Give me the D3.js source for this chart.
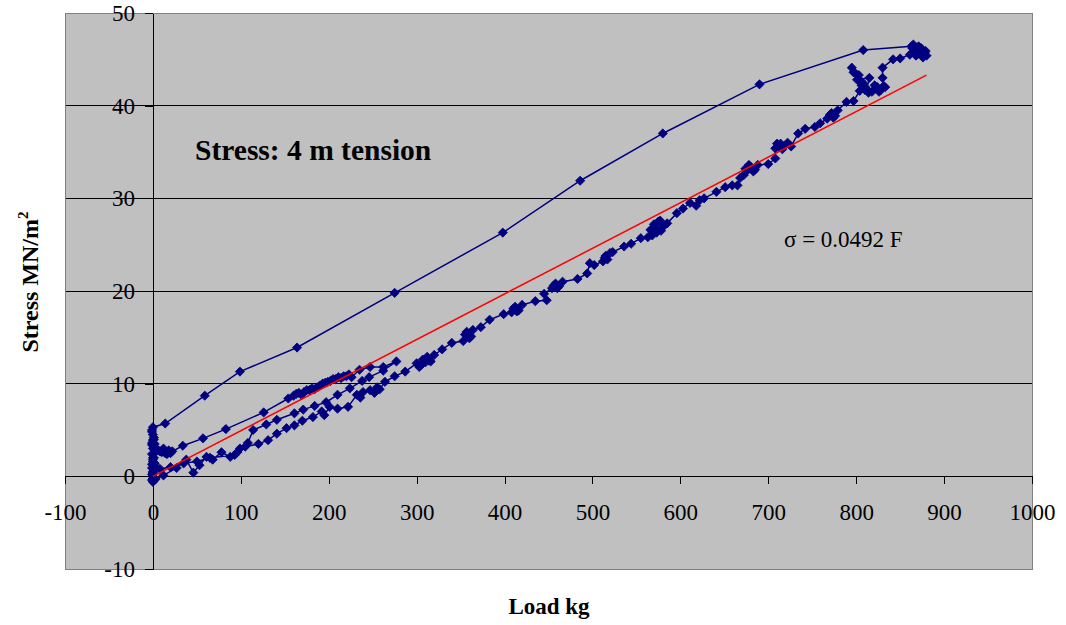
<!DOCTYPE html>
<html><head><meta charset="utf-8">
<script src="https://cdn.jsdelivr.net/npm/d3@7"></script>
<style>body{margin:0;background:#fff;}</style>
</head><body>
<svg id="c" width="1066" height="625"></svg>
<script>
const xTicks = [-100,0,100,200,300,400,500,600,700,800,900,1000];
const yTicks = [-10,0,10,20,30,40,50];
const gridY = [10,20,30,40];
// measured load (kg)
const loadKg = [
 0,-1,1,-1,0,1,-1,0,2,0,-1,1,3,2,5,8,10,12,14,16,18,20,22,34,57,83,126,154,160,163,166,169,172,175,178,181,184,187,190,193,196,199,202,205,208,211,214,217,220,223,226,235,247,262,277,
 262,246,238,224,210,197,184,171,161,141,129,114,108,99,96,88,78,68,61,53,46,38,27,12,3,0,
 0,-1,1,0,2,0,-1,1,8,20,35,50,65,93,105,120,131,141,152,161,170,182,192,195,201,210,222,232,236,239,247,252,255,258,264,275,287,300,303,305,307,310,312,314,316,320,329,340,353,355,357,360,362,364,373,383,399,408,410,412,414,416,420,435,448,445,454,456,458,460,462,466,483,494,497,502,512,514,515,517,520,523,536,544,555,563,566,568,570,572,573,575,577,578,580,585,596,603,611,618,622,627,641,651,659,665,668,672,674,676,678,680,683,685,688,700,708,708,710,712,714,716,719,722,726,734,742,753,759,767,770,772,774,776,779,789,797,804,806,808,810,812,815,801,797,795,799,803,806,810,814,818,821,824,826,828,831,833,830,830,842,850,861,864,866,868,870,872,874,876,878,880,879,876,873,871,868,865,
 863,808,690,580,486,398,275,164,99,59,14,0,-1,0,1,-1,0,1,0,-1
];
// measured stress (MN/m2)
const stressMN = [
 3.0,3.6,4.2,4.8,3.9,3.2,2.4,1.6,1.0,0.5,1.3,2.0,2.6,3.5,2.9,2.7,2.6,3.0,2.5,2.4,2.8,2.5,2.7,3.3,4.1,5.1,6.9,8.4,8.7,8.9,9.0,8.8,9.1,9.3,9.3,9.5,9.4,9.6,9.8,10.0,10.1,10.2,10.3,10.5,10.5,10.7,10.6,10.8,10.8,11.0,10.7,11.5,11.8,11.8,12.4,
 11.4,10.7,10.3,9.5,8.8,8.0,7.6,7.2,6.8,6.1,5.6,5.0,3.6,3.0,2.6,2.1,2.6,1.8,2.1,1.2,0.4,1.8,0.9,0.1,-0.3,-0.6,
 0.4,0.9,1.2,1.8,1.4,-0.2,0.2,0.7,0.8,1.0,1.4,1.6,2.0,2.3,3.2,3.5,3.9,4.6,5.2,5.5,6.0,6.4,7.0,6.6,7.5,7.3,7.5,8.8,8.5,9.1,9.3,9.0,9.6,9.4,10.2,10.8,11.3,12.2,11.8,12.0,12.6,12.3,12.9,12.5,12.4,13.1,13.7,14.4,14.6,15.3,15.6,14.9,15.1,15.8,16.1,16.9,17.5,17.7,18.1,18.3,17.8,17.9,18.5,18.9,19.0,19.7,20.3,20.6,20.8,20.3,20.5,21.0,21.3,21.9,23.0,22.8,23.2,23.6,23.8,23.4,24.1,24.2,24.8,25.1,25.7,25.8,26.6,26.0,27.2,26.7,26.3,27.5,27.6,26.5,26.9,27.3,28.4,28.9,29.5,29.2,29.8,30.0,30.7,31.2,31.4,31.4,32.2,32.5,33.2,33.0,33.6,33.4,32.9,33.1,33.6,33.7,34.3,35.4,35.9,35.5,35.9,35.3,35.7,36.0,35.6,37.0,37.5,37.7,38.1,38.6,39.0,39.2,38.7,38.9,39.5,40.4,40.5,41.6,42.2,42.4,41.7,41.8,43.0,42.8,43.6,44.1,43.5,43.3,42.6,42.0,41.4,41.5,42.2,42.0,41.5,41.7,42.1,42.0,43.0,44.1,45.0,45.1,45.5,46.2,46.0,45.4,45.6,46.1,46.2,45.5,45.7,45.4,45.9,45.2,45.8,46.4,45.9,46.6,
 46.4,46.0,42.3,37.0,31.9,26.3,19.8,13.9,11.3,8.7,5.7,5.3,5.0,4.5,4.0,3.4,2.0,1.1,0.3,-0.4
];
const fitLoad = [0, 880];
const fitSlope = 0.0492;

const svg = d3.select("#c");
const x = d3.scaleLinear().domain([-100,1000]).range([65,1032]);
const y = d3.scaleLinear().domain([-10,50]).range([569,13]);
const serif = "'Liberation Serif','Times New Roman',serif";

svg.append("rect").attr("x",x(-100)).attr("y",y(50)).attr("width",x(1000)-x(-100)).attr("height",y(-10)-y(50))
  .attr("fill","#c0c0c0");
svg.append("g").selectAll("line").data(gridY).join("line")
  .attr("x1",x(-100)).attr("x2",x(1000)).attr("y1",d=>y(d)).attr("y2",d=>y(d))
  .attr("stroke","#000").attr("stroke-width",1).attr("shape-rendering","crispEdges");
svg.append("rect").attr("x",x(-100)).attr("y",y(50)).attr("width",x(1000)-x(-100)).attr("height",y(-10)-y(50))
  .attr("fill","none").attr("stroke","#808080").attr("stroke-width",1).attr("shape-rendering","crispEdges");

const fmt = d => String(d);
const xAxis = svg.append("g").attr("transform",`translate(0,${y(0)})`)
  .call(d3.axisBottom(x).tickValues(xTicks).tickSizeInner(8).tickSizeOuter(0).tickPadding(19).tickFormat(fmt));
const yAxis = svg.append("g").attr("transform",`translate(${x(0)},0)`)
  .call(d3.axisLeft(y).tickValues(yTicks).tickSizeInner(8).tickSizeOuter(0).tickPadding(10).tickFormat(fmt));
[xAxis,yAxis].forEach(g=>{
  g.selectAll("path,line").attr("stroke","#000").attr("shape-rendering","crispEdges");
  g.selectAll("text").attr("font-family",serif).attr("font-size",23).attr("fill","#000");
});

const pts = loadKg.map((v,i)=>[v,stressMN[i]]);
svg.append("path").datum(pts)
  .attr("d",d3.line().x(d=>x(d[0])).y(d=>y(d[1])))
  .attr("fill","none").attr("stroke","#000080").attr("stroke-width",1.5);
svg.append("g").selectAll("path").data(pts).join("path")
  .attr("transform",d=>`translate(${x(d[0])},${y(d[1])})`)
  .attr("d","M0,-4.6L4.6,0L0,4.6L-4.6,0Z")
  .attr("fill","#000080").attr("stroke","#000080").attr("stroke-width",0.8);

svg.append("line")
  .attr("x1",x(fitLoad[0])).attr("y1",y(fitLoad[0]*fitSlope))
  .attr("x2",x(fitLoad[1])).attr("y2",y(fitLoad[1]*fitSlope))
  .attr("stroke","#ff0000").attr("stroke-width",1.5);

svg.append("text").attr("x",195).attr("y",160).attr("font-family",serif).attr("font-weight","bold")
  .attr("font-size",29.5).text("Stress: 4 m tension");
svg.append("text").attr("x",784).attr("y",247).attr("font-family",serif)
  .attr("font-size",23).text("σ = 0.0492 F");
svg.append("text").attr("x",549).attr("y",614).attr("text-anchor","middle").attr("font-family",serif)
  .attr("font-weight","bold").attr("font-size",23).text("Load kg");
const yt = svg.append("text").attr("transform","translate(38,282) rotate(-90)").attr("text-anchor","middle")
  .attr("font-family",serif).attr("font-weight","bold").attr("font-size",24);
yt.append("tspan").text("Stress MN/m");
yt.append("tspan").attr("dy",-10).attr("font-size",15).text("2");
</script>
</body></html>
